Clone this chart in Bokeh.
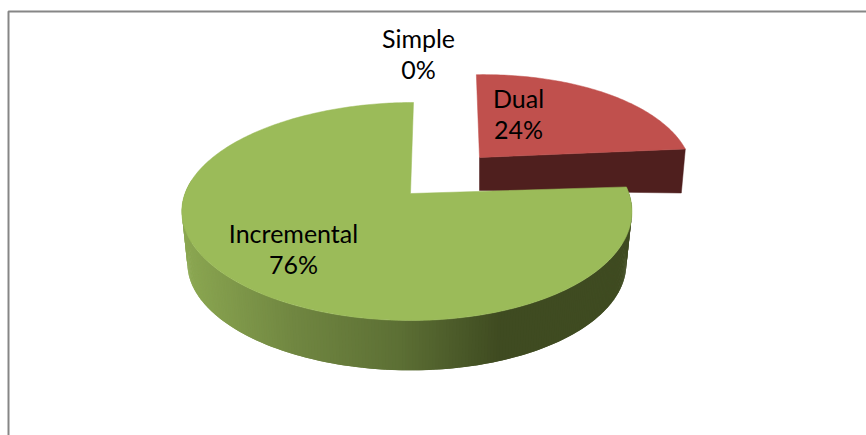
import numpy as np
from bokeh.core.properties import value
from bokeh.embed import file_html
from bokeh.plotting import figure
from bokeh.resources import INLINE

# Share of each category, clockwise from twelve o'clock
categories = ["Simple", "Dual", "Incremental"]
shares = [0, 24, 76]

RED = "#c0504d"
RED_SIDE = "#4f1f1e"
GREEN = "#9bbb59"
SIDE_STOPS_X = [187, 300, 400, 500]
SIDE_STOPS_RGB = [(140, 168, 82), (112, 134, 65), (93, 112, 53), (63, 75, 33)]
FRAME = "#868686"
FONT = "Lato"
FONT_SIZE = "25px"

# Perspective of the tilted disc, in screen pixels
APEX_X, APEX_Y = 410.0, 193.0
DISC_X = 406.5
K_X, TILT, A_Y = 222.0, 0.165, -74.2


def disc_point(theta):
    """Project an angle on the unit circle on to the top face of the disc."""
    x, y = np.cos(theta), np.sin(theta)
    den = 1 + TILT * y
    sx = DISC_X + K_X * x / den + 5 * y**2 + 1.5 * y
    sy = (A_Y * y + APEX_Y) / den
    return sx, sy


def under_point(sx, sy):
    """Matching point on the lower rim of the disc."""
    return DISC_X + (sx - DISC_X) * 0.975, 263 + (sy - 211) * 0.98


p = figure(width=866, height=435, x_range=(0, 866), y_range=(435, 0),
           output_backend="svg", toolbar_location=None, min_border=0)
p.axis.visible = False
p.grid.visible = False
p.outline_line_color = None
p.background_fill_color = "white"

# Chart frame, open on the right and at the bottom
p.line([8, 8, 866], [435, 11, 11], line_color=FRAME, line_width=2)

# Angles follow the shares clockwise from the top
dual_sweep = 2 * np.pi * shares[1] / sum(shares)
incr_sweep = 2 * np.pi * shares[2] / sum(shares)
start = np.pi / 2 - 2 * np.pi * shares[0] / sum(shares)
dual_end = start - dual_sweep

# Exploded Dual slice
th = np.linspace(start, dual_end, 80)
gx, gy = disc_point(th)
rx = 479 + 0.955 * (gx - APEX_X) - 6 * np.sin(th)
ry = 157 + 0.91 * (gy - APEX_Y) - 2.5 * np.cos(th)
p.patch([rx[-1], rx[-1] - 4, 479, 479], [ry[-1], ry[-1] + 44, 190, 157],
        fill_color=RED_SIDE, line_color=RED_SIDE, line_width=0.5)
p.patch(np.r_[479, rx], np.r_[157, ry], fill_color=RED, line_color=RED, line_width=0.5)

# Rim of the Incremental slice, shaded left to right
th = np.linspace(np.radians(172), start - dual_sweep + 2 * np.pi, 260)
tx, ty = disc_point(th)
ux, uy = under_point(tx, ty)
quad_x, quad_y, quad_c = [], [], []
for i in range(len(th) - 1):
    j = min(i + 2, len(th) - 1)
    quad_x.append([tx[i], tx[j], ux[j], ux[i]])
    quad_y.append([ty[i], ty[j], uy[j], uy[i]])
    mid = (ux[i] + ux[j]) / 2
    rgb = [int(np.interp(mid, SIDE_STOPS_X, [c[k] for c in SIDE_STOPS_RGB])) for k in range(3)]
    quad_c.append("#%02x%02x%02x" % tuple(rgb))
p.patches(quad_x, quad_y, fill_color=quad_c, line_color=None)

# Top face of the Incremental slice
th = np.linspace(start, start + incr_sweep, 300)
tx, ty = disc_point(th)
p.patch(np.r_[APEX_X, tx], np.r_[APEX_Y, ty], fill_color=GREEN, line_color=GREEN, line_width=0.5)

# Category name above its percentage
label_x = [418, 518, 293]
label_y = [37.5, 97.5, 232.5]
for name, share, lx, ly in zip(categories, shares, label_x, label_y):
    p.text([lx, lx], [ly, ly + 31], text=[name, f"{share}%"], text_align="center",
           text_baseline="middle", text_font=value(FONT), text_font_size=FONT_SIZE,
           text_color="black")

open("out.html", "w").write(file_html(p, INLINE))
